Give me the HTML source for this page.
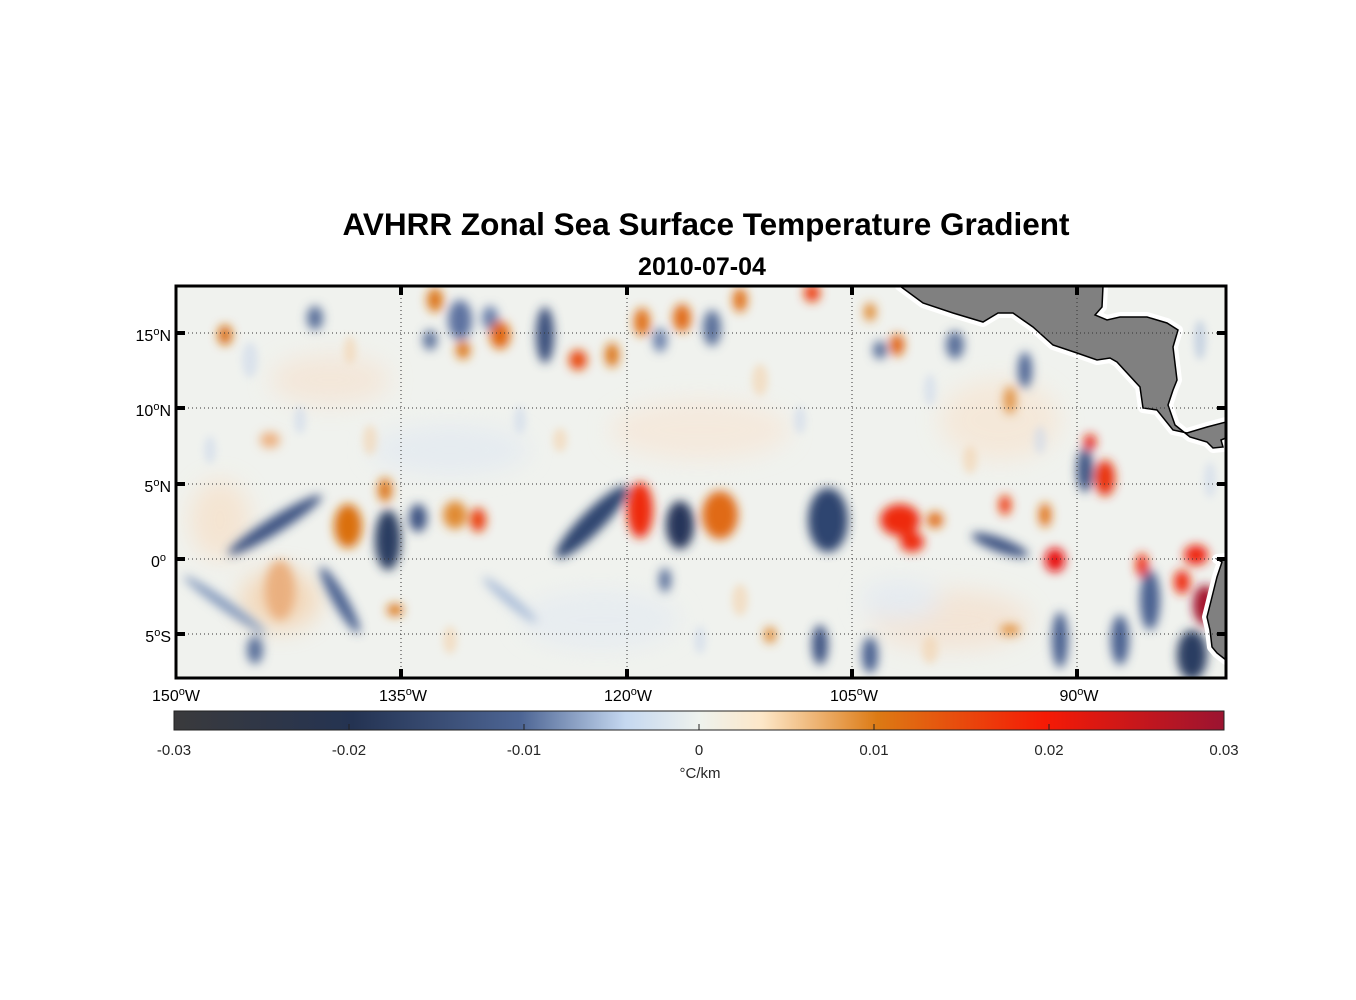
<!DOCTYPE html>
<html><head><meta charset="utf-8"><style>
html,body{margin:0;padding:0;background:#fff;}
svg{display:block;font-family:"Liberation Sans",Arial,sans-serif;}
</style></head><body>
<svg width="1356" height="1000" viewBox="0 0 1356 1000" xmlns="http://www.w3.org/2000/svg">
<defs>
<clipPath id="map"><rect x="176" y="286" width="1050" height="392"/></clipPath>
<filter id="b" x="-50%" y="-50%" width="200%" height="200%"><feGaussianBlur stdDeviation="5"/></filter>
<filter id="b2" x="-50%" y="-50%" width="200%" height="200%"><feGaussianBlur stdDeviation="12"/></filter>
<filter id="b3" x="-50%" y="-50%" width="200%" height="200%"><feGaussianBlur stdDeviation="4"/></filter>
<linearGradient id="cb" x1="0" x2="1" y1="0" y2="0">
<stop offset="0" stop-color="#3a3a3c"/>
<stop offset="0.17" stop-color="#243352"/>
<stop offset="0.33" stop-color="#4d6594"/>
<stop offset="0.43" stop-color="#c5d8f0"/>
<stop offset="0.5" stop-color="#eef2ee"/>
<stop offset="0.56" stop-color="#fde7c8"/>
<stop offset="0.67" stop-color="#dc7a14"/>
<stop offset="0.83" stop-color="#f51a05"/>
<stop offset="1" stop-color="#9b1431"/>
</linearGradient>
</defs>
<text x="706" y="235" text-anchor="middle" font-size="31.5" font-weight="bold">AVHRR Zonal Sea Surface Temperature Gradient</text>
<text x="702" y="275" text-anchor="middle" font-size="25" font-weight="bold">2010-07-04</text>

<g clip-path="url(#map)">
<rect x="176" y="286" width="1050" height="392" fill="#f0f2ee"/>
<g filter="url(#b2)" opacity="0.6">
<ellipse cx="280" cy="600" rx="40" ry="30" fill="#f5c89a"/>
<ellipse cx="220" cy="520" rx="30" ry="40" fill="#f8dcc0"/>
<ellipse cx="700" cy="430" rx="90" ry="30" fill="#f8e4d2"/>
<ellipse cx="450" cy="450" rx="80" ry="25" fill="#dfe7f2"/>
<ellipse cx="1000" cy="420" rx="60" ry="40" fill="#f8e2cc"/>
<ellipse cx="950" cy="620" rx="80" ry="30" fill="#f5dcc6"/>
<ellipse cx="600" cy="620" rx="80" ry="30" fill="#e2e9f2"/>
<ellipse cx="330" cy="380" rx="60" ry="25" fill="#f6e0cc"/>
<ellipse cx="900" cy="600" rx="40" ry="20" fill="#dfe6f2"/>
</g>
<g filter="url(#b3)" opacity="0.55">
<ellipse cx="250" cy="360" rx="8" ry="18" fill="#c9d6ea"/>
<ellipse cx="350" cy="350" rx="6" ry="14" fill="#f3cfa6"/>
<ellipse cx="300" cy="420" rx="6" ry="14" fill="#c9d6ea"/>
<ellipse cx="370" cy="440" rx="7" ry="15" fill="#f3cfa6"/>
<ellipse cx="520" cy="420" rx="6" ry="14" fill="#c9d6ea"/>
<ellipse cx="560" cy="440" rx="7" ry="12" fill="#f3cfa6"/>
<ellipse cx="760" cy="380" rx="8" ry="16" fill="#f3cfa6"/>
<ellipse cx="800" cy="420" rx="6" ry="14" fill="#c9d6ea"/>
<ellipse cx="930" cy="390" rx="6" ry="16" fill="#c9d6ea"/>
<ellipse cx="970" cy="460" rx="7" ry="14" fill="#f3cfa6"/>
<ellipse cx="1040" cy="440" rx="6" ry="14" fill="#c9d6ea"/>
<ellipse cx="1200" cy="340" rx="6" ry="20" fill="#a9bcd8"/>
<ellipse cx="1210" cy="480" rx="6" ry="18" fill="#c9d6ea"/>
<ellipse cx="740" cy="600" rx="8" ry="16" fill="#f3cfa6"/>
<ellipse cx="700" cy="640" rx="6" ry="14" fill="#c9d6ea"/>
<ellipse cx="450" cy="640" rx="7" ry="14" fill="#f3cfa6"/>
<ellipse cx="930" cy="650" rx="8" ry="14" fill="#f3cfa6"/>
<ellipse cx="210" cy="450" rx="6" ry="14" fill="#c9d6ea"/>
</g>
<g filter="url(#b)">
<ellipse cx="545" cy="335" rx="9" ry="28" fill="#3a4f7c"/>
<ellipse cx="315" cy="318" rx="8" ry="12" fill="#5a6f9a"/>
<ellipse cx="460" cy="320" rx="12" ry="20" fill="#5d72a0"/>
<ellipse cx="490" cy="318" rx="8" ry="12" fill="#6a80ab"/>
<ellipse cx="712" cy="328" rx="9" ry="18" fill="#5a6f9a"/>
<ellipse cx="660" cy="340" rx="7" ry="12" fill="#6b80aa"/>
<ellipse cx="955" cy="345" rx="9" ry="14" fill="#5a6f9a"/>
<ellipse cx="1025" cy="370" rx="7" ry="18" fill="#4e6594"/>
<ellipse cx="880" cy="350" rx="7" ry="9" fill="#5a6f9a"/>
<ellipse cx="430" cy="340" rx="7" ry="10" fill="#5a6f9a"/>
<ellipse cx="275" cy="525" rx="55" ry="8" transform="rotate(-32 275 525)" fill="#3d5382"/>
<ellipse cx="388" cy="540" rx="13" ry="30" fill="#2b3d62"/>
<ellipse cx="418" cy="518" rx="9" ry="14" fill="#3d5382"/>
<ellipse cx="592" cy="522" rx="50" ry="11" transform="rotate(-45 592 522)" fill="#2f4570"/>
<ellipse cx="680" cy="525" rx="14" ry="24" fill="#25365a"/>
<ellipse cx="828" cy="520" rx="20" ry="32" fill="#2f4570"/>
<ellipse cx="340" cy="600" rx="38" ry="7" transform="rotate(60 340 600)" fill="#4a6090"/>
<ellipse cx="225" cy="605" rx="50" ry="5" transform="rotate(35 225 605)" fill="#8096bb"/>
<ellipse cx="1000" cy="545" rx="30" ry="7" transform="rotate(20 1000 545)" fill="#3d5382"/>
<ellipse cx="1085" cy="470" rx="8" ry="22" fill="#3d5382"/>
<ellipse cx="1150" cy="600" rx="10" ry="30" fill="#4a6090"/>
<ellipse cx="1192" cy="655" rx="15" ry="25" fill="#2b3d62"/>
<ellipse cx="1120" cy="640" rx="9" ry="25" fill="#4a6090"/>
<ellipse cx="1060" cy="640" rx="8" ry="28" fill="#4a6090"/>
<ellipse cx="870" cy="655" rx="8" ry="18" fill="#4a6090"/>
<ellipse cx="820" cy="645" rx="8" ry="20" fill="#3d5382"/>
<ellipse cx="665" cy="580" rx="6" ry="12" fill="#5a6f9a"/>
<ellipse cx="255" cy="650" rx="8" ry="14" fill="#5a6f9a"/>
<ellipse cx="510" cy="600" rx="35" ry="5" transform="rotate(40 510 600)" fill="#a9bcd8"/>
<ellipse cx="225" cy="335" rx="7" ry="10" fill="#d86a10"/>
<ellipse cx="435" cy="300" rx="8" ry="12" fill="#dc7414"/>
<ellipse cx="500" cy="335" rx="10" ry="14" fill="#e06610"/>
<ellipse cx="463" cy="350" rx="7" ry="9" fill="#dc7414"/>
<ellipse cx="578" cy="360" rx="9" ry="10" fill="#e84a0c"/>
<ellipse cx="612" cy="355" rx="7" ry="12" fill="#dc7414"/>
<ellipse cx="642" cy="322" rx="8" ry="14" fill="#e07016"/>
<ellipse cx="682" cy="318" rx="9" ry="14" fill="#e06a14"/>
<ellipse cx="740" cy="300" rx="7" ry="12" fill="#e07016"/>
<ellipse cx="812" cy="293" rx="8" ry="9" fill="#ec3c0a"/>
<ellipse cx="870" cy="312" rx="6" ry="9" fill="#e08a30"/>
<ellipse cx="897" cy="345" rx="7" ry="11" fill="#e06010"/>
<ellipse cx="1010" cy="400" rx="6" ry="14" fill="#e09040"/>
<ellipse cx="385" cy="490" rx="7" ry="12" fill="#dc7414"/>
<ellipse cx="348" cy="526" rx="14" ry="22" fill="#da700e"/>
<ellipse cx="455" cy="515" rx="12" ry="14" fill="#e08a30"/>
<ellipse cx="478" cy="520" rx="8" ry="12" fill="#ea4010"/>
<ellipse cx="640" cy="510" rx="13" ry="28" fill="#ee2a08"/>
<ellipse cx="720" cy="515" rx="18" ry="24" fill="#e06a14"/>
<ellipse cx="900" cy="520" rx="20" ry="16" fill="#ee2a08"/>
<ellipse cx="912" cy="542" rx="12" ry="10" fill="#ee2a08"/>
<ellipse cx="935" cy="520" rx="8" ry="8" fill="#e06a14"/>
<ellipse cx="1005" cy="505" rx="6" ry="10" fill="#ee3a08"/>
<ellipse cx="1045" cy="515" rx="6" ry="12" fill="#e07016"/>
<ellipse cx="1055" cy="560" rx="10" ry="12" fill="#e81010"/>
<ellipse cx="1105" cy="478" rx="10" ry="18" fill="#e8300a"/>
<ellipse cx="1090" cy="442" rx="6" ry="8" fill="#e8200a"/>
<ellipse cx="1142" cy="565" rx="6" ry="12" fill="#ee2a08"/>
<ellipse cx="1196" cy="555" rx="12" ry="10" fill="#ee2208"/>
<ellipse cx="1182" cy="582" rx="8" ry="12" fill="#ee2a08"/>
<ellipse cx="1205" cy="605" rx="12" ry="20" fill="#a5162e"/>
<ellipse cx="395" cy="610" rx="8" ry="6" fill="#dc7414"/>
<ellipse cx="770" cy="635" rx="6" ry="8" fill="#e08a30"/>
<ellipse cx="280" cy="590" rx="15" ry="30" fill="#eab080"/>
<ellipse cx="1010" cy="630" rx="10" ry="5" fill="#e08a30"/>
<ellipse cx="270" cy="440" rx="10" ry="8" fill="#ecb080"/>
</g>
<g fill="none" stroke="#fff" stroke-width="10" stroke-linejoin="round">
<polygon points="900,286 923,303 953,313 983,322 998,313 1013,313 1033,327 1053,345 1077,353 1097,360 1110,358 1117,362 1140,387 1143,408 1157,410 1173,430 1187,433 1207,427 1226,422 1226,438 1221,440 1223,447 1213,448 1207,442 1190,437 1175,425 1168,405 1173,390 1177,380 1173,347 1178,330 1167,323 1147,317 1120,317 1107,320 1095,315 1102,307 1103,286"/>
<polygon points="1226,558 1217,559 1222,562 1217,577 1213,593 1207,617 1210,630 1212,647 1217,653 1226,660"/>
</g>
<polygon fill="#808080" stroke="#000" stroke-width="1.5" points="900,286 923,303 953,313 983,322 998,313 1013,313 1033,327 1053,345 1077,353 1097,360 1110,358 1117,362 1140,387 1143,408 1157,410 1173,430 1187,433 1207,427 1226,422 1226,438 1221,440 1223,447 1213,448 1207,442 1190,437 1175,425 1168,405 1173,390 1177,380 1173,347 1178,330 1167,323 1147,317 1120,317 1107,320 1095,315 1102,307 1103,286"/>
<polygon fill="#808080" stroke="#000" stroke-width="1.5" points="1226,558 1217,559 1222,562 1217,577 1213,593 1207,617 1210,630 1212,647 1217,653 1226,660"/>
<g stroke="#333" stroke-width="1" stroke-dasharray="1,3">
<line x1="401" y1="286" x2="401" y2="678"/><line x1="627" y1="286" x2="627" y2="678"/>
<line x1="852" y1="286" x2="852" y2="678"/><line x1="1077" y1="286" x2="1077" y2="678"/>
<line x1="176" y1="333" x2="1226" y2="333"/><line x1="176" y1="408" x2="1226" y2="408"/>
<line x1="176" y1="484" x2="1226" y2="484"/><line x1="176" y1="559" x2="1226" y2="559"/>
<line x1="176" y1="634" x2="1226" y2="634"/>
</g>
</g>
<rect x="176" y="286" width="1050" height="392" fill="none" stroke="#000" stroke-width="3"/>
<g stroke="#000" stroke-width="4">
<line x1="401" y1="286" x2="401" y2="295"/><line x1="627" y1="286" x2="627" y2="295"/><line x1="852" y1="286" x2="852" y2="295"/><line x1="1077" y1="286" x2="1077" y2="295"/>
<line x1="401" y1="678" x2="401" y2="669"/><line x1="627" y1="678" x2="627" y2="669"/><line x1="852" y1="678" x2="852" y2="669"/><line x1="1077" y1="678" x2="1077" y2="669"/>
<line x1="176" y1="333" x2="185" y2="333"/><line x1="176" y1="408" x2="185" y2="408"/><line x1="176" y1="484" x2="185" y2="484"/><line x1="176" y1="559" x2="185" y2="559"/><line x1="176" y1="634" x2="185" y2="634"/>
<line x1="1226" y1="333" x2="1217" y2="333"/><line x1="1226" y1="408" x2="1217" y2="408"/><line x1="1226" y1="484" x2="1217" y2="484"/><line x1="1226" y1="559" x2="1217" y2="559"/><line x1="1226" y1="634" x2="1217" y2="634"/>
</g>
<g font-size="16" text-anchor="end">
<text x="171" y="341">15<tspan font-size="11" dy="-6">o</tspan><tspan dy="6">N</tspan></text>
<text x="171" y="416">10<tspan font-size="11" dy="-6">o</tspan><tspan dy="6">N</tspan></text>
<text x="171" y="492">5<tspan font-size="11" dy="-6">o</tspan><tspan dy="6">N</tspan></text>
<text x="166" y="567">0<tspan font-size="11" dy="-6">o</tspan></text>
<text x="171" y="642">5<tspan font-size="11" dy="-6">o</tspan><tspan dy="6">S</tspan></text>
</g>
<g font-size="16" text-anchor="middle">
<text x="176" y="701">150<tspan font-size="11" dy="-6">o</tspan><tspan dy="6">W</tspan></text>
<text x="403" y="701">135<tspan font-size="11" dy="-6">o</tspan><tspan dy="6">W</tspan></text>
<text x="628" y="701">120<tspan font-size="11" dy="-6">o</tspan><tspan dy="6">W</tspan></text>
<text x="854" y="701">105<tspan font-size="11" dy="-6">o</tspan><tspan dy="6">W</tspan></text>
<text x="1079" y="701">90<tspan font-size="11" dy="-6">o</tspan><tspan dy="6">W</tspan></text>
</g>
<rect x="174" y="711" width="1050" height="19" fill="url(#cb)" stroke="#222" stroke-width="1"/>
<g stroke="#222" stroke-width="1">
<line x1="349" y1="730" x2="349" y2="724"/><line x1="524" y1="730" x2="524" y2="724"/><line x1="699" y1="730" x2="699" y2="724"/><line x1="874" y1="730" x2="874" y2="724"/><line x1="1049" y1="730" x2="1049" y2="724"/>
</g>
<g font-size="15" text-anchor="middle" fill="#262626">
<text x="174" y="755">-0.03</text><text x="349" y="755">-0.02</text><text x="524" y="755">-0.01</text><text x="699" y="755">0</text>
<text x="874" y="755">0.01</text><text x="1049" y="755">0.02</text><text x="1224" y="755">0.03</text>
<text x="700" y="778">°C/km</text>
</g>
</svg>
</body></html>
